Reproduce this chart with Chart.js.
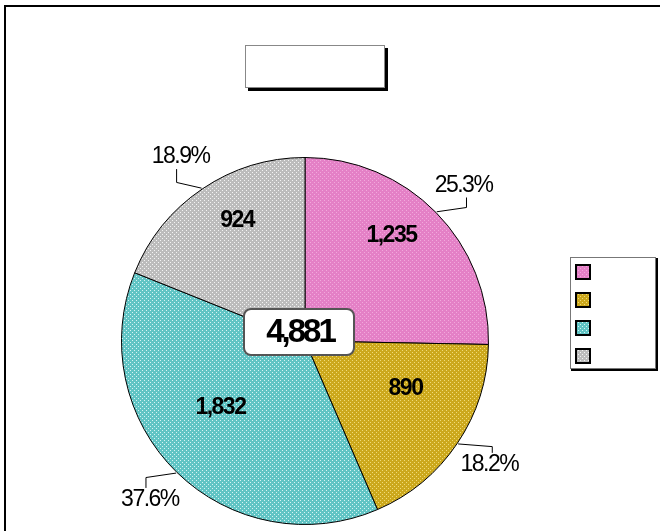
<!DOCTYPE html>
<html>
<head>
<meta charset="utf-8">
<script src="https://cdn.jsdelivr.net/npm/chart.js@4/dist/chart.umd.min.js"></script>
<style>
  html, body { margin: 0; padding: 0; background: #fff; }
  #pieChart { display: block; }
</style>
</head>
<body>
<canvas id="pieChart" width="660" height="531"></canvas>
<script>
// data
const legendLabels = ['', '', '', ''];
const values = [1235, 890, 1832, 924];
const percentLabels = ['25.3%', '18.2%', '37.6%', '18.9%'];
const totalLabel = '4,881';

// base colour + dot colour for the dotted fills
const fillBase = ['rgb(228,128,198)', 'rgb(204,168,28)', 'rgb(96,196,196)', 'rgb(188,188,188)'];
const fillDot = ['rgb(242,168,220)', 'rgb(240,220,120)', 'rgb(214,244,244)', 'rgb(244,244,244)'];

function makePattern(base, dot) {
    const c = document.createElement('canvas');
    c.width = 4; c.height = 4;
    const g = c.getContext('2d');
    g.fillStyle = base;
    g.fillRect(0, 0, 4, 4);
    g.fillStyle = dot;
    g.fillRect(0, 0, 1, 1);
    g.fillRect(2, 2, 1, 1);
    return g.createPattern(c, 'repeat');
}

const fills = fillBase.map((b, i) => makePattern(b, fillDot[i]));

const decorations = {
    id: 'decorations',
    afterDraw(chart) {
        const ctx = chart.ctx;
        ctx.save();

        // outer frame (cut off at right and bottom)
        ctx.strokeStyle = '#000';
        ctx.lineWidth = 2;
        ctx.beginPath();
        ctx.moveTo(5, 540);
        ctx.lineTo(5, 6);
        ctx.lineTo(670, 6);
        ctx.stroke();

        // empty title box with shadow
        ctx.fillStyle = '#000';
        ctx.fillRect(248, 48, 140, 43);
        ctx.fillStyle = '#fff';
        ctx.fillRect(245, 45, 140, 43);
        ctx.strokeStyle = '#888';
        ctx.lineWidth = 1;
        ctx.strokeRect(245.5, 45.5, 139, 42);

        // legend box
        ctx.fillStyle = '#000';
        ctx.fillRect(571, 258, 87, 113);
        ctx.fillStyle = '#fff';
        ctx.fillRect(570, 257, 86, 112);
        ctx.strokeStyle = '#777';
        ctx.strokeRect(570.5, 257.5, 85, 111);
        legendLabels.forEach((lbl, i) => {
            const y = 265 + i * 28;
            ctx.fillStyle = fills[i];
            ctx.fillRect(576, y, 14, 14);
            ctx.strokeStyle = '#000';
            ctx.lineWidth = 2;
            ctx.strokeRect(576, y, 14, 14);
            ctx.fillStyle = '#000';
            ctx.font = '14px "Liberation Sans", Arial, sans-serif';
            ctx.textBaseline = 'middle';
            ctx.fillText(lbl, 598, y + 7);
        });

        const meta = chart.getDatasetMeta(0);
        ctx.textAlign = 'center';
        ctx.textBaseline = 'middle';
        meta.data.forEach((arc, i) => {
            const p = arc.getProps(['x', 'y', 'startAngle', 'endAngle', 'outerRadius']);
            const mid = (p.startAngle + p.endAngle) / 2;
            const R = p.outerRadius;
            const cx = Math.cos(mid), cy = Math.sin(mid);

            // value inside slice (label ring sits a little above the centre)
            ctx.fillStyle = '#000';
            ctx.font = 'bold 23px "Liberation Sans", Arial, sans-serif';
            ctx.letterSpacing = '-1.5px';
            const vr = R * 0.66;
            ctx.fillText(values[i].toLocaleString('en-US'), p.x + cx * vr, p.y - R * 0.11 + cy * vr);

            // percent outside with leader line
            const lx = p.x + cx * R * 1.21;
            const ly = p.y + cy * R * 1.21;
            const ex = p.x + cx * (R + 1);
            const ey = p.y + cy * (R + 1);
            ctx.font = '23px "Liberation Sans", Arial, sans-serif';
            ctx.letterSpacing = '-1.5px';
            const tw = ctx.measureText(percentLabels[i]).width;
            ctx.fillText(percentLabels[i], lx, ly);

            ctx.strokeStyle = '#000';
            ctx.lineWidth = 1;
            ctx.beginPath();
            ctx.moveTo(ex, ey);
            if (Math.abs(ey - ly) < 16) {
                const side = lx < p.x ? lx + tw / 2 : lx - tw / 2;
                ctx.lineTo(side, ly + 2);
            } else {
                const vy = ly < ey ? ly + 12 : ly - 12;
                const kx = lx - (lx < p.x ? 4 : -3);
                const ky = ey + (vy - ey) * 0.3;
                ctx.lineTo(kx, ky);
                ctx.lineTo(kx, vy);
            }
            ctx.stroke();
        });

        // total in the centre
        const c0 = meta.data[0];
        ctx.fillStyle = '#fff';
        ctx.strokeStyle = '#555';
        ctx.lineWidth = 2;
        ctx.beginPath();
        ctx.roundRect(c0.x - 61, c0.y - 32, 110, 46, 7);
        ctx.fill();
        ctx.stroke();
        ctx.fillStyle = '#000';
        ctx.font = 'bold 33px "Liberation Sans", Arial, sans-serif';
        ctx.letterSpacing = '-3px';
        ctx.fillText(totalLabel, c0.x - 5, c0.y - 8);

        ctx.restore();
    }
};

new Chart(document.getElementById('pieChart').getContext('2d'), {
    type: 'pie',
    data: {
        labels: legendLabels,
        datasets: [{
            data: values,
            backgroundColor: fills,
            borderColor: '#000',
            borderWidth: 1
        }]
    },
    options: {
        responsive: false,
        animation: false,
        devicePixelRatio: 1,
        layout: {
            padding: { left: 121, right: 171, top: 157, bottom: 6 }
        },
        plugins: {
            legend: { display: false },
            tooltip: { enabled: false },
            title: { display: false }
        }
    },
    plugins: [decorations]
});
</script>
</body>
</html>
